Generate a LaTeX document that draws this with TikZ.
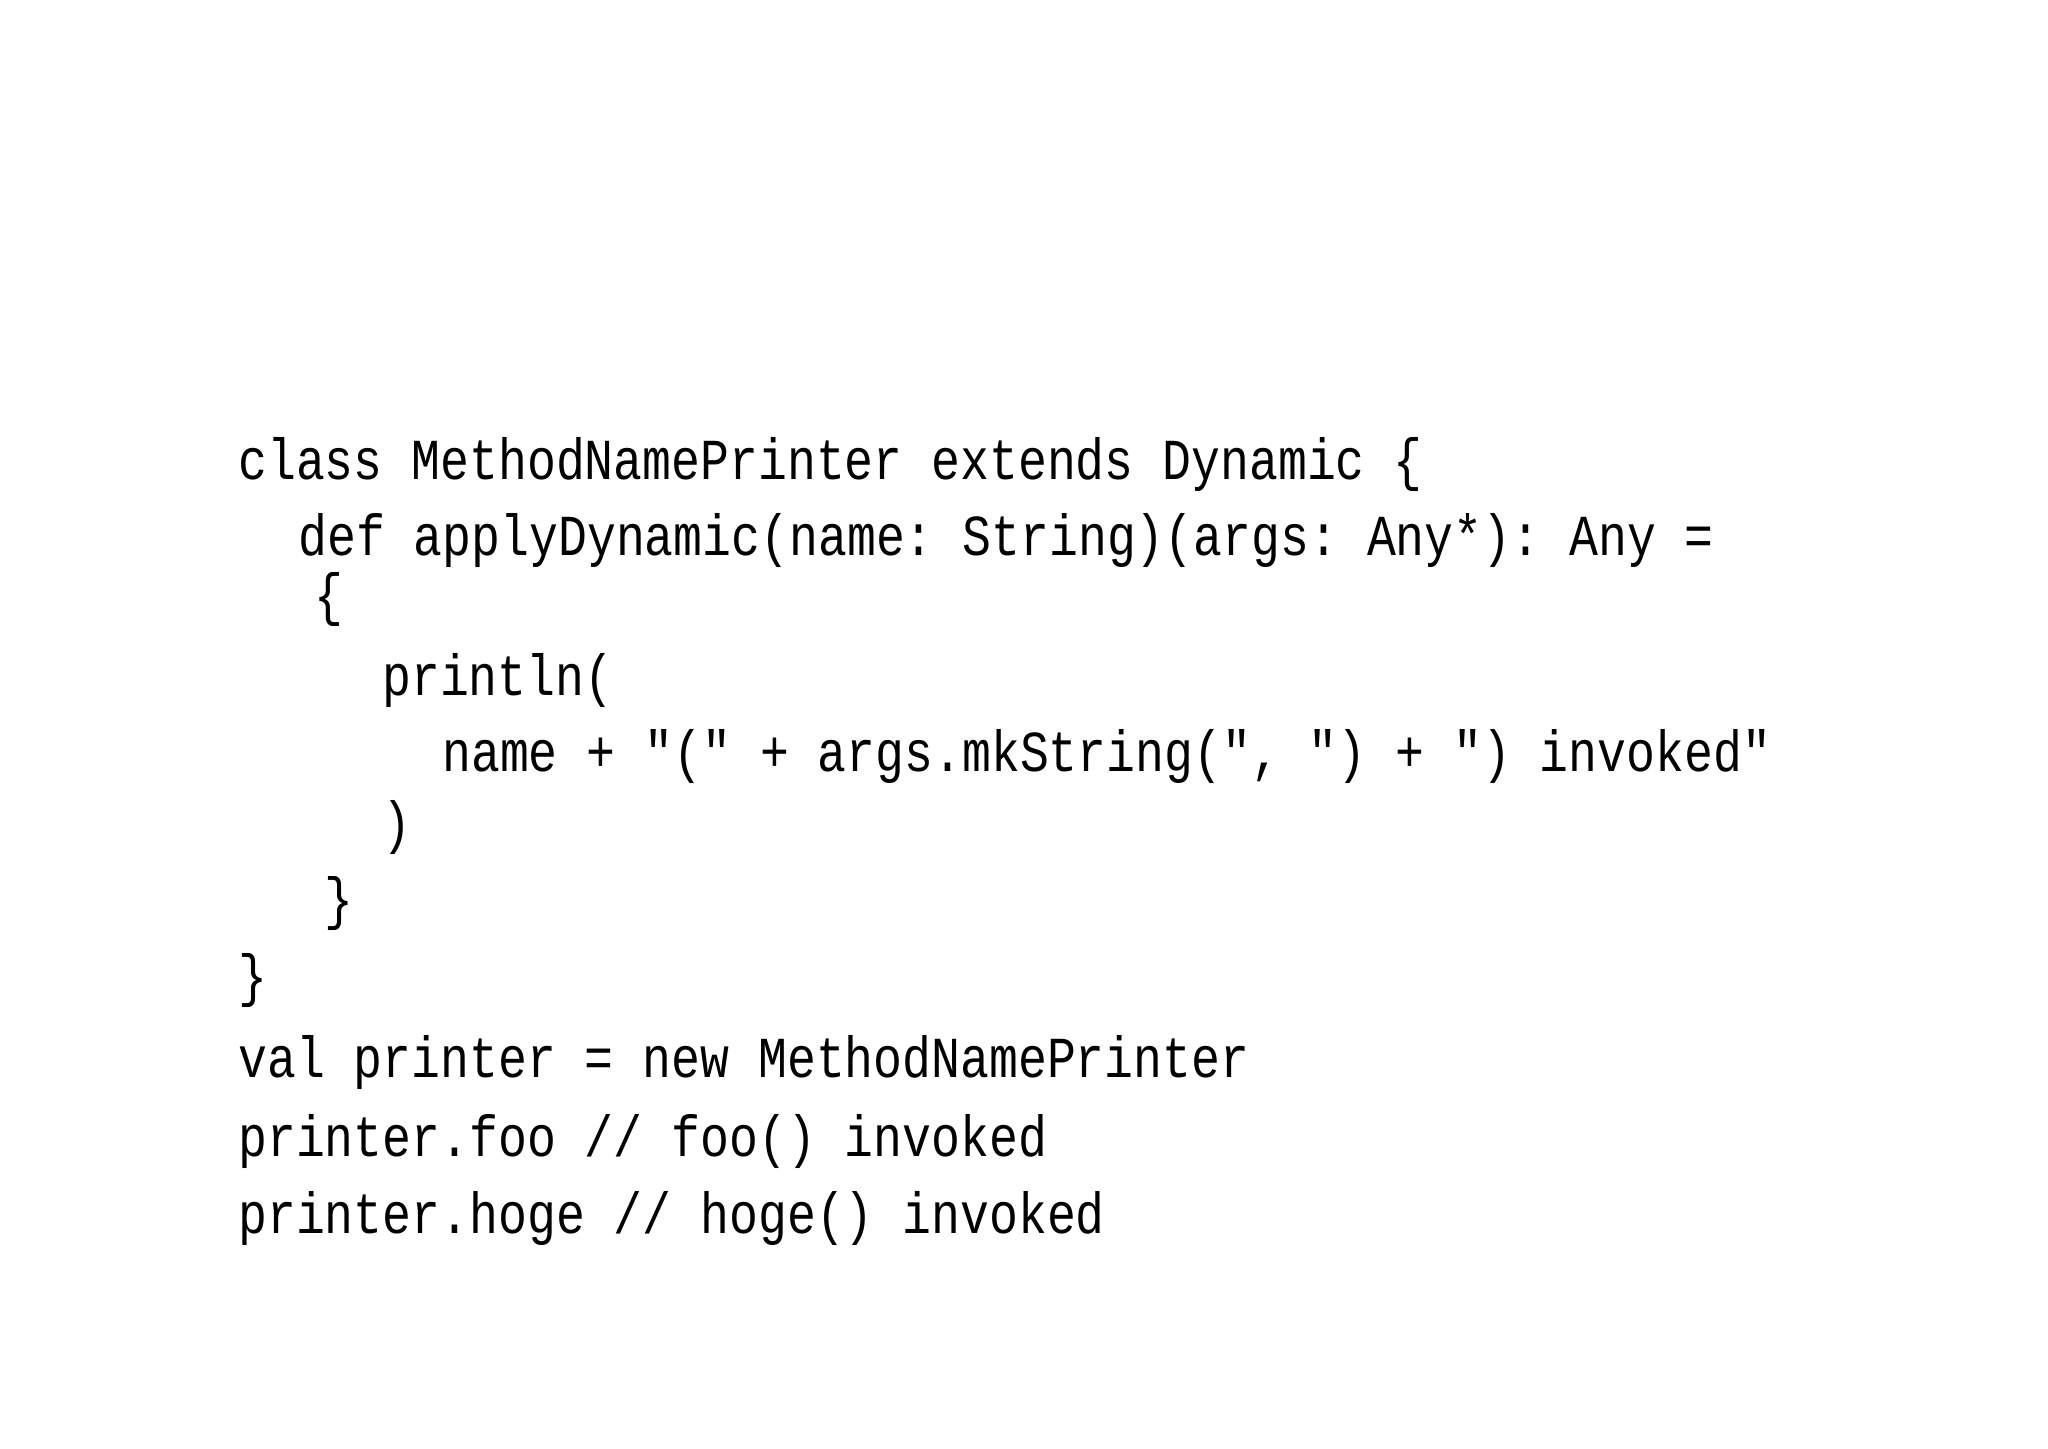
\documentclass[tikz,border=0pt]{standalone}
\usepackage{fontspec}
\setmonofont{Liberation Mono}
\begin{document}
\begin{tikzpicture}[x=1pt,y=1pt,
  code/.style={anchor=base west,inner sep=0pt,font=\ttfamily\fontsize{29}{30}\selectfont,xscale=0.83}]
\useasboundingbox (0,0) rectangle (1024,-724);
\node[code] (l1) at (119,-239.5) {class MethodNamePrinter extends Dynamic \{};
\node[code] (l2) at (149,-277.5) {def applyDynamic(name: String)(args: Any*): Any =};
\node[code] (l3) at (157,-307) {\{};
\node[code] (l4) at (191,-347.5) {println(};
\node[code] (l5) at (221,-385.5) {name + "(" + args.mkString(", ") + ") invoked"};
\node[code] (l6) at (191,-421) {)};
\node[code] (l7) at (162,-459) {\}};
\node[code] (l8) at (119,-497.5) {\}};
\node[code] (l9) at (119,-538.5) {val printer = new MethodNamePrinter};
\node[code] (l10) at (119,-578) {printer.foo // foo() invoked};
\node[code] (l11) at (119,-616.5) {printer.hoge // hoge() invoked};
\end{tikzpicture}
\end{document}
